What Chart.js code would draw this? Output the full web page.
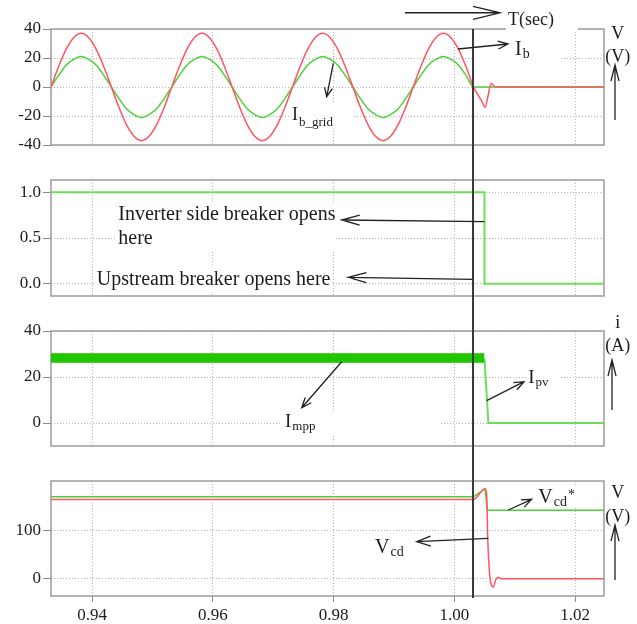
<!DOCTYPE html>
<html><head><meta charset="utf-8">
<script src="https://cdn.jsdelivr.net/npm/chart.js@4.4.1/dist/chart.umd.min.js"></script>
<style>
html,body{margin:0;padding:0;background:#fff;width:637px;height:624px;overflow:hidden}
canvas{position:absolute;left:0}
</style></head><body>
<canvas id="c1" width="637" height="162" style="top:0px"></canvas>
<canvas id="c2" width="637" height="151" style="top:162px"></canvas>
<canvas id="c3" width="637" height="150" style="top:313px"></canvas>
<canvas id="c4" width="637" height="161" style="top:463px"></canvas>
<script>
// ---------- data ----------
const xRange = [0.9332, 1.0248];
const xTicks = [0.94, 0.96, 0.98, 1.00, 1.02];
const breakerTime = 1.0031;

// panel 1 : currents
const tGrid = [
  0.9332,0.93445,0.9357,0.93695,0.9382,0.93945,0.9407,0.94195,
  0.9432,0.94445,0.9457,0.94695,0.9482,0.94945,0.9507,0.95195,
  0.9532,0.95445,0.9557,0.95695,0.9582,0.95945,0.9607,0.96195,
  0.9632,0.96445,0.9657,0.96695,0.9682,0.96945,0.9707,0.97195,
  0.9732,0.97445,0.9757,0.97695,0.9782,0.97945,0.9807,0.98195,
  0.9832,0.98445,0.9857,0.98695,0.9882,0.98945,0.9907,0.99195,
  0.9932,0.99445,0.9957,0.99695,0.9982,0.99945,1.0007,1.00195,
  1.0032,1.0040,1.0046,1.0051,1.0056,1.0061,1.0065,1.0068,1.0248
];
const ib = [
  0,14,26,34,37,34,26,14,
  0,-14,-26,-34,-37,-34,-26,-14,
  0,14,26,34,37,34,26,14,
  0,-14,-26,-34,-37,-34,-26,-14,
  0,14,26,34,37,34,26,14,
  0,-14,-26,-34,-37,-34,-26,-14,
  0,14,26,34,37,34,26,14,
  0,-6,-10,-14,-6,2.6,1,0,0
];
const ibGrid = [
  0,8,15,19,21,19,15,8,
  0,-8,-15,-19,-21,-19,-15,-8,
  0,8,15,19,21,19,15,8,
  0,-8,-15,-19,-21,-19,-15,-8,
  0,8,15,19,21,19,15,8,
  0,-8,-15,-19,-21,-19,-15,-8,
  0,8,15,19,21,19,15,8,
  0,0,0,0,0,0,0,0,0
];
const yTicks1 = [-40,-20,0,20,40];

// panel 2 : breaker signal
const tBrk = [0.9332, 1.0050, 1.0050, 1.0248];
const brk = [1, 1, 0, 0];
const yTicks2 = [0, 0.5, 1.0];

// panel 3 : PV current
const tMpp = [0.9332, 1.0050];
const mppHi = [30.1, 30.1];
const mppLo = [26.4, 26.4];
const tPv = [1.0050, 1.00565, 1.0248];
const ipv = [28, 0, 0];
const yTicks3 = [0, 20, 40];

// panel 4 : DC voltage
const tVref = [0.9332, 1.0032, 1.0051, 1.00547, 1.0248];
const vref = [171, 171, 188, 143, 143];
const tVcd = [0.9332, 1.0032, 1.0051, 1.00537, 1.00553, 1.0058, 1.00607, 1.00645, 1.00685, 1.00729, 1.00786, 1.0248];
const vcd = [165.5, 165.5, 188, 175, 88, 18, -10, -17, -3, 3, 0, 0];
const yTicks4 = [0, 100];

// ---------- style ----------
const FONT = "'Liberation Serif', 'Times New Roman', serif";
const RED = 'rgb(255,85,100)';
const GREEN = 'rgb(75,208,55)';
const LGREEN = 'rgb(110,222,90)';
const BAND = 'rgb(32,198,0)';
const GRID = '#b4b4b4';
const FRAME = '#9c9c9c';
const INK = '#1c1c1c';
Chart.defaults.font.family = FONT;
Chart.defaults.color = INK;

function pairs(xs, ys) { return xs.map((x, i) => ({x: x, y: ys[i]})); }

function baseOptions(p) {
  return {
    responsive: false, animation: false, devicePixelRatio: 1,
    layout: {padding: {left: 0, right: 33, top: p.top, bottom: 0}},
    plugins: {legend: {display: false}, tooltip: {enabled: false}},
    elements: {point: {radius: 0}, line: {borderWidth: 1.5}},
    scales: {
      x: {
        type: 'linear', min: xRange[0], max: xRange[1],
        afterBuildTicks: s => { s.ticks = xTicks.map(v => ({value: v})); },
        afterFit: s => { s.height = p.xH; },
        grid: {color: GRID, lineWidth: 1, drawTicks: p.showX, tickLength: 6, tickColor: '#8a8a8a', tickBorderDash: [], tickWidth: 1},
        border: {display: false, dash: [1, 2]},
        ticks: {display: p.showX, padding: 3, font: {size: 17}, color: INK, autoSkip: false, maxRotation: 0,
                callback: v => Number(v).toFixed(2)}
      },
      y: {
        type: 'linear', min: p.yMin, max: p.yMax,
        afterBuildTicks: s => { s.ticks = p.yTicks.map(v => ({value: v})); },
        afterFit: s => { s.width = 51; },
        grid: {color: GRID, lineWidth: 1, drawTicks: true, tickLength: 8, tickColor: '#8a8a8a', tickBorderDash: [], tickWidth: 1},
        border: {display: false, dash: [1, 2]},
        ticks: {padding: 2, font: {size: 17}, color: INK, autoSkip: false, callback: p.yFmt}
      }
    }
  };
}

function drawArrow(ctx, x1, y1, x2, y2, len, hw) {
  const a = Math.atan2(y2 - y1, x2 - x1);
  const bx = x2 - len * Math.cos(a), by = y2 - len * Math.sin(a);
  const nx = -Math.sin(a) * hw, ny = Math.cos(a) * hw;
  ctx.beginPath();
  ctx.moveTo(x1, y1); ctx.lineTo(x2, y2);
  ctx.moveTo(bx + nx, by + ny); ctx.lineTo(x2, y2); ctx.lineTo(bx - nx, by - ny);
  ctx.stroke();
}

function drawLabel(ctx, px, py, t) {
  const subSize = t.subSize || 13;
  ctx.font = t.size + 'px ' + FONT;
  const w = ctx.measureText(t.text).width;
  let sw = 0, pw = 0;
  ctx.font = subSize + 'px ' + FONT;
  if (t.sub) sw = ctx.measureText(t.sub).width + 1;
  if (t.sup) pw = ctx.measureText(t.sup).width + 1;
  const total = w + sw + pw;
  const x0 = t.align === 'center' ? px - total / 2 : px;
  ctx.textAlign = 'left'; ctx.textBaseline = 'alphabetic'; ctx.fillStyle = INK;
  ctx.font = t.size + 'px ' + FONT;
  ctx.fillText(t.text, x0, py);
  ctx.font = subSize + 'px ' + FONT;
  if (t.sub) ctx.fillText(t.sub, x0 + w + 1, py + (t.subDy || 3));
  if (t.sup) ctx.fillText(t.sup, x0 + w + sw + 1, py - 4);
}

function annotPlugin(cfg) {
  return {
    id: 'annot',
    beforeDatasetsDraw(chart) {
      const ctx = chart.ctx, a = chart.chartArea, x = chart.scales.x, y = chart.scales.y;
      ctx.save();
      ctx.strokeStyle = FRAME; ctx.lineWidth = 1.5;
      ctx.strokeRect(a.left, a.top, a.right - a.left, a.bottom - a.top);
      ctx.fillStyle = '#fff';
      (cfg.boxes || []).forEach(b => {
        const x1 = x.getPixelForValue(b[0]), x2 = x.getPixelForValue(b[2]);
        const y1 = y.getPixelForValue(b[1]), y2 = y.getPixelForValue(b[3]);
        ctx.fillRect(Math.min(x1, x2), Math.min(y1, y2), Math.abs(x2 - x1), Math.abs(y2 - y1));
      });
      ctx.restore();
    },
    afterDraw(chart) {
      const ctx = chart.ctx, a = chart.chartArea, x = chart.scales.x, y = chart.scales.y;
      ctx.save();
      (cfg.texts || []).forEach(t => drawLabel(ctx, x.getPixelForValue(t.x), y.getPixelForValue(t.y), t));
      // breaker instant line
      const vx = x.getPixelForValue(breakerTime);
      const top = cfg.vTop === 'area' ? a.top : 0;
      const bot = cfg.vBottom === 'area' ? a.bottom + 2 : chart.height;
      ctx.strokeStyle = '#3a3a3a'; ctx.lineWidth = 2;
      ctx.beginPath(); ctx.moveTo(vx, top); ctx.lineTo(vx, bot); ctx.stroke();
      // arrows
      ctx.strokeStyle = '#222'; ctx.lineWidth = 1.3;
      (cfg.arrows || []).forEach(r => drawArrow(ctx,
        x.getPixelForValue(r[0]), y.getPixelForValue(r[1]),
        x.getPixelForValue(r[2]), y.getPixelForValue(r[3]), r[4], r[5]));
      ctx.restore();
    }
  };
}

// ---------- annotations (data coordinates) ----------
const ann1 = {
  vTop: 'area', vBottom: 'canvas',
  boxes: [[1.00857, 57.24, 1.02050, 38.62], [1.00327, 35.17, 1.01751, 18.62], [0.97262, -11.73, 0.98322, -30.35]],
  texts: [
    {x: 1.00890, y: 42.76, text: 'T(sec)', size: 18},
    {x: 1.01006, y: 22.07, text: 'I', sub: 'b', size: 20, subSize: 14, subDy: 3},
    {x: 1.02707, y: 33.1, text: 'V', size: 18, align: 'center'},
    {x: 1.02707, y: 17.45, text: '(V)', size: 18, align: 'center'},
    {x: 0.97312, y: -22.8, text: 'I', sub: 'b_grid', size: 18, subSize: 13, subDy: 6}
  ],
  arrows: [
    [0.99184, 51.2, 1.00757, 51.2, 27, 6.5],
    [1.00062, 26.2, 1.00890, 29.65, 10, 4],
    [1.02662, -22.76, 1.02662, 15.17, 16, 4],
    [0.97996, 16.34, 0.97887, -6.69, 9, 4]
  ]
};
const ann2 = {
  vTop: 'canvas', vBottom: 'canvas',
  boxes: [[0.94397, 0.8832, 0.98041, 0.3467], [0.94049, 0.1935, 0.97958, -0.0912]],
  texts: [
    {x: 0.94435, y: 0.6971, text: 'Inverter side breaker opens', size: 20},
    {x: 0.94435, y: 0.4343, text: 'here', size: 20},
    {x: 0.94077, y: -0.0146, text: 'Upstream breaker opens here', size: 20}
  ],
  arrows: [[1.00498, 0.6785, 0.98135, 0.6971, 18, 5], [1.00305, 0.0479, 0.98245, 0.0697, 18, 5]]
};
const ann3 = {
  vTop: 'canvas', vBottom: 'canvas',
  boxes: [[0.97146, 5.65, 0.99764, -5.65], [1.01188, 23.9, 1.01751, 13.48]],
  texts: [
    {x: 1.02707, y: 41.3, text: 'i', size: 18, align: 'center'},
    {x: 1.02707, y: 31.3, text: '(A)', size: 18, align: 'center'},
    {x: 0.97196, y: -1.6, text: 'I', sub: 'mpp', size: 19, subSize: 13, subDy: 3},
    {x: 1.01226, y: 17.39, text: 'I', sub: 'pv', size: 19, subSize: 13, subDy: 3}
  ],
  arrows: [[1.02613, 5.65, 1.02613, 27.39, 16, 4], [0.98135, 26.65, 0.97473, 6.65, 10, 4], [1.00537, 9.7, 1.01155, 17.96, 10, 4]]
};
const ann4 = {
  vTop: 'canvas', vBottom: 'area',
  boxes: [[1.01369, 193.6, 1.02181, 147.6], [0.98654, 85.0, 0.99184, 39.1]],
  texts: [
    {x: 1.02707, y: 168.5, text: 'V', size: 18, align: 'center'},
    {x: 1.02707, y: 118.4, text: '(V)', size: 18, align: 'center'},
    {x: 1.01392, y: 158.1, text: 'V', sub: 'cd', sup: '*', size: 20, subSize: 14, subDy: 3},
    {x: 0.98687, y: 53.7, text: 'V', sub: 'cd', size: 20, subSize: 14, subDy: 3}
  ],
  arrows: [[1.02662, -2.7, 1.02662, 112.1, 16, 4], [1.00895, 143.5, 1.01282, 165.8, 10, 4], [1.00564, 84.4, 0.99378, 77.3, 14, 5]]
};

// ---------- charts ----------
new Chart(document.getElementById('c1'), {
  type: 'line',
  data: {datasets: [
    {data: pairs(tGrid, ib), borderColor: RED, borderWidth: 1.5, cubicInterpolationMode: 'monotone', fill: false},
    {data: pairs(tGrid, ibGrid), borderColor: GREEN, borderWidth: 1.5, cubicInterpolationMode: 'monotone', fill: false}
  ]},
  options: baseOptions({top: 29, xH: 17, showX: false, yMin: -40, yMax: 40, yTicks: yTicks1, yFmt: v => String(v)}),
  plugins: [annotPlugin(ann1)]
});

new Chart(document.getElementById('c2'), {
  type: 'line',
  data: {datasets: [
    {data: pairs(tBrk, brk), borderColor: LGREEN, borderWidth: 2, tension: 0, fill: false}
  ]},
  options: baseOptions({top: 18, xH: 17, showX: false, yMin: -0.135, yMax: 1.135, yTicks: yTicks2, yFmt: v => Number(v).toFixed(1)}),
  plugins: [annotPlugin(ann2)]
});

new Chart(document.getElementById('c3'), {
  type: 'line',
  data: {datasets: [
    {data: pairs(tMpp, mppHi), borderColor: BAND, backgroundColor: BAND, borderWidth: 1, fill: '+1', tension: 0},
    {data: pairs(tMpp, mppLo), borderColor: BAND, borderWidth: 1, fill: false, tension: 0},
    {data: pairs(tPv, ipv), borderColor: LGREEN, borderWidth: 2, fill: false, tension: 0}
  ]},
  options: baseOptions({top: 18, xH: 17, showX: false, yMin: -10, yMax: 40, yTicks: yTicks3, yFmt: v => String(v)}),
  plugins: [annotPlugin(ann3)]
});

new Chart(document.getElementById('c4'), {
  type: 'line',
  data: {datasets: [
    {data: pairs(tVcd, vcd), borderColor: RED, borderWidth: 1.5, cubicInterpolationMode: 'monotone', fill: false},
    {data: pairs(tVref, vref), borderColor: GREEN, borderWidth: 1.5, tension: 0, fill: false}
  ]},
  options: baseOptions({top: 18, xH: 28, showX: true, yMin: -36, yMax: 204, yTicks: yTicks4, yFmt: v => String(v)}),
  plugins: [annotPlugin(ann4)]
});
</script>
</body></html>
